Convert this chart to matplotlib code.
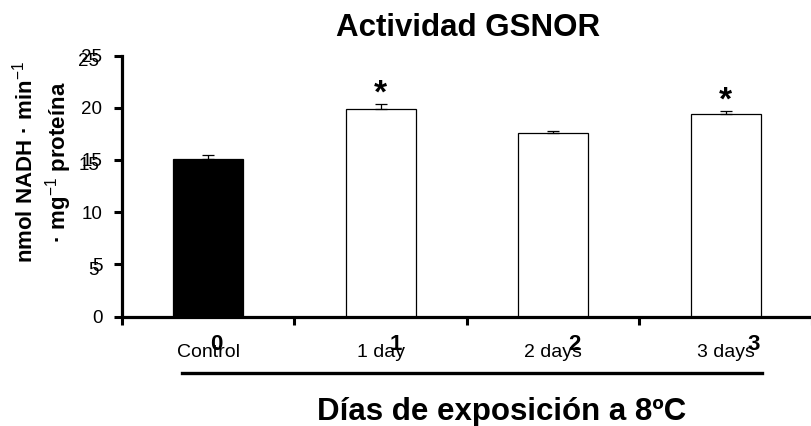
import matplotlib
matplotlib.use("Agg")
import matplotlib.pyplot as plt
import matplotlib.transforms as mtransforms
from matplotlib.lines import Line2D
import numpy as np

plt.rcParams['font.family'] = ['Liberation Sans', 'DejaVu Sans']
plt.rcParams['mathtext.fontset'] = 'custom'
plt.rcParams['mathtext.rm'] = 'Liberation Sans'
plt.rcParams['mathtext.bf'] = 'Liberation Sans:bold'

# GSNOR activity after cold exposure (mean and SE)
categories = ['Control', '1 day', '2 days', '3 days']
days = ['0', '1', '2', '3']
activity = [15.1, 19.9, 17.6, 19.4]
sem = [0.4, 0.5, 0.2, 0.3]
significant = [False, True, False, True]
bar_colors = ['black', 'white', 'white', 'white']
yticks = [0, 5, 10, 15, 20, 25]
yticks_dup = [5, 15, 25]

W, H = 812, 426
fig = plt.figure(figsize=(W / 100, H / 100), dpi=100)
ax = fig.add_axes([122 / W, (H - 316.7) / H, (W - 122) / W, (316.7 - 55.5) / H])

x = np.arange(len(categories))
ax.bar(x, activity, width=0.405, color=bar_colors, edgecolor='black',
       linewidth=0.9, zorder=2)
ax.errorbar(x, activity, yerr=[np.zeros(len(sem)), sem], fmt='none',
            ecolor='black', elinewidth=0.9, capsize=4.3, capthick=0.9, zorder=3)

for xi, v, e, s in zip(x, activity, sem, significant):
    if s:
        ax.text(xi, v + e + 0.12, '*', ha='center', va='baseline',
                fontsize=24, fontweight='bold')

ax.set_xlim(-0.5, -0.5 + (W - 122) / 174.6)
ax.set_ylim(0, 25)
ax.set_yticks(yticks)
ax.set_xticks(x)
ax.set_xticklabels(categories, fontsize=14)
ax.set_xticks(np.arange(-0.5, len(categories)), minor=True)
ax.tick_params(axis='x', which='major', length=0, pad=20)
ax.tick_params(axis='x', which='minor', direction='out', length=5.5, width=2.2)
ax.tick_params(axis='y', direction='out', length=5.8, width=2.2, pad=8.4,
               labelsize=13.5)
for side in ['top', 'right']:
    ax.spines[side].set_visible(False)
for side in ['left', 'bottom']:
    ax.spines[side].set_linewidth(2.3)

# second set of y labels, slightly offset
ax2 = ax.twinx()
ax2.set_ylim(ax.get_ylim())
ax2.yaxis.set_ticks_position('left')
ax2.set_yticks(yticks_dup)
ax2.tick_params(axis='y', length=0, pad=16.5, labelsize=13.5)
for sp in ax2.spines.values():
    sp.set_visible(False)
shift = mtransforms.ScaledTranslation(0, -0.04, fig.dpi_scale_trans)
for lab in ax2.get_yticklabels():
    lab.set_transform(lab.get_transform() + shift)

# day numbers on a secondary category axis
ax3 = ax.twiny()
k0 = (122 - 216.7) / 179.1
ax3.set_xlim(k0, k0 + (W - 122) / 179.1)
ax3.xaxis.set_ticks_position('bottom')
ax3.set_xticks(np.arange(len(days)))
ax3.set_xticklabels(days, fontsize=16, fontweight='bold')
ax3.tick_params(axis='x', length=0, pad=12.5)
for sp in ax3.spines.values():
    sp.set_visible(False)

fig.add_artist(Line2D([182.3 / W, 761.7 / W], [(H - 373.3) / H] * 2,
                      color='black', linewidth=2.4))

fig.text(468 / W, 1 - 36 / H, 'Actividad GSNOR', ha='center', va='baseline',
         fontsize=22.5, fontweight='bold')
fig.text(501.5 / W, 1 - 420 / H, 'Días de exposición a 8ºC', ha='center',
         va='baseline', fontsize=22.5, fontweight='bold')
fig.text(43 / W, 1 - 162 / H,
         'nmol NADH · min$^{\\mathrm{-1}}$\n· mg$^{\\mathrm{-1}}$ proteína',
         rotation=90, ha='center', va='center', multialignment='center',
         fontsize=16, fontweight='bold', linespacing=1.25)

fig.savefig('out.png', dpi=100)
